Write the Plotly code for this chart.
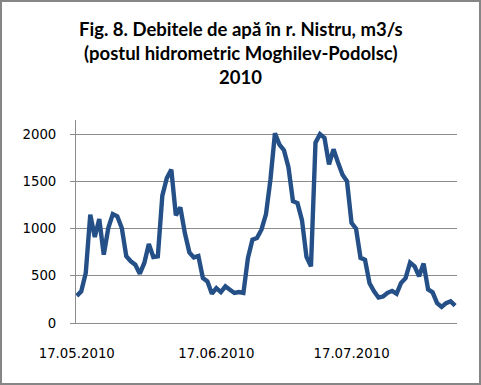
import plotly.graph_objects as go
import pandas as pd

start_date = "2010-05-17"
discharge = [
    288, 335, 530, 1147, 911, 1100, 723, 1006, 1154, 1130,
    1006, 706, 653, 618, 522, 636, 837, 699, 706, 1349,
    1536, 1624, 1140, 1225, 953, 748, 695, 710, 476, 441,
    310, 370, 328, 388, 353, 318, 328, 318, 688, 882,
    900, 988, 1150, 1520, 2010, 1890, 1830, 1650, 1290, 1270,
    1090, 700, 600, 1910, 2000, 1960, 1680, 1840, 1700, 1570,
    1500, 1060, 1000, 690, 670, 420, 335, 270, 280, 320,
    340, 310, 425, 475, 640, 600, 495, 630, 355, 325,
    210, 170, 210, 230, 185,
]
dates = pd.date_range(start_date, periods=len(discharge), freq="D")
x_tick_dates = ["2010-05-17", "2010-06-17", "2010-07-17"]
x_tick_labels = ["17.05.2010", "17.06.2010", "17.07.2010"]
y_tick_vals = [0, 500, 1000, 1500, 2000]
y_tick_labels = ["0", "500", "1000", "1500", "2000"]
title_lines = [
    "Fig. 8. Debitele de apă în r. Nistru, m3/s",
    "(postul hidrometric Moghilev-Podolsc)",
    "2010",
]

W, H = 481, 385
L, R, T, B = 76, 24, 120, 62
pw, ph = W - L - R, H - T - B

fig = go.Figure()
fig.add_trace(go.Scatter(
    x=dates, y=discharge, mode="lines",
    line=dict(color="#245087", width=4.4, shape="linear"),
    hoverinfo="skip", showlegend=False,
))

grid = "#8c8c8c"
fig.update_layout(
    width=W, height=H,
    margin=dict(l=L, r=R, t=T, b=B, pad=0, autoexpand=False),
    paper_bgcolor="white", plot_bgcolor="white",
    showlegend=False,
    xaxis=dict(
        range=["2010-05-16 20:00", "2010-08-09 10:00"],
        tickvals=x_tick_dates, ticktext=x_tick_labels,
        showgrid=False, zeroline=False,
        showline=True, linecolor=grid, linewidth=1,
        ticks="", ticklabelstandoff=18, automargin=False,
        tickfont=dict(family="DejaVu Sans", size=13.3, color="#000000"),
    ),
    yaxis=dict(
        range=[0, 2150],
        tickvals=y_tick_vals, ticktext=y_tick_labels,
        showgrid=True, gridcolor=grid, gridwidth=1,
        zeroline=False, automargin=False,
        showline=True, linecolor=grid, linewidth=1,
        ticks="outside", ticklen=5, tickcolor=grid,
        ticklabelstandoff=11,
        tickfont=dict(family="DejaVu Sans", size=13.3, color="#000000"),
    ),
)

centers_px = [28.7, 53.4, 77.2]
for line, cy in zip(title_lines, centers_px):
    fig.add_annotation(
        text="<b>" + line + "</b>",
        xref="paper", yref="paper",
        x=(240.5 - L) / pw, y=(H - B - cy) / ph,
        xanchor="center", yanchor="middle",
        showarrow=False,
        font=dict(family="Lato", size=18.5, color="#000000"),
    )

fig.add_shape(
    type="rect", xref="paper", yref="paper",
    x0=(1 - L) / pw, x1=(480 - L) / pw,
    y0=(H - B - 384) / ph, y1=(H - B - 1) / ph,
    line=dict(color="#868686", width=2), fillcolor="rgba(0,0,0,0)",
    layer="above",
)

fig.write_html(
    "out.html",
    config={"displayModeBar": False},
    post_script="document.body.style.margin='0px';document.body.style.overflow='hidden';",
)
